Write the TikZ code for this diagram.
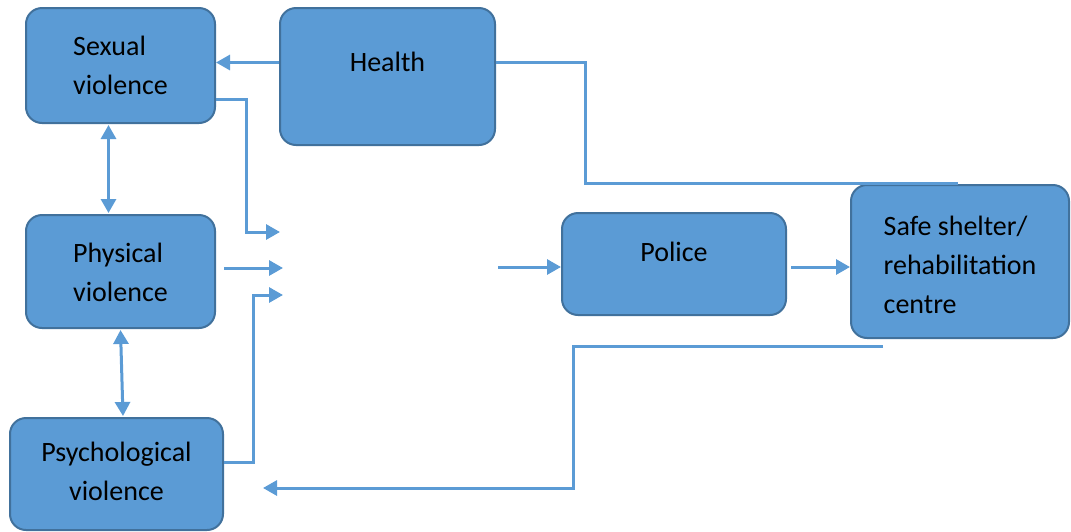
\documentclass[tikz,border=0pt]{standalone}
\usepackage{fontspec}
\setmainfont{Carlito}
\usepackage{xcolor}
\usetikzlibrary{positioning, calc, arrows.meta}
\definecolor{boxblue}{HTML}{5B9BD5}
\definecolor{boxedge}{HTML}{41719C}

\begin{document}
\begin{tikzpicture}[x=1pt, y=-1pt, >={Triangle[length=14pt, width=15pt]},
	box/.style={draw=boxedge, line width=2pt, fill=boxblue, rounded corners=16pt, inner xsep=0pt, inner ysep=0pt, font=\fontsize{28}{39}\selectfont},
	line/.style={draw=boxblue, line width=3pt},
	link/.style={line, ->},
	twoway/.style={line, <->}]
	% Page frame
	\useasboundingbox (0,0) rectangle (1071,531);
	
	% Boxes (text placed by text height / depth, last line is the base)
	\node[box, align=left, minimum width=189pt, text height=86pt, text depth=29pt] (sexual) at (120.5,65.5) {Sexual\\violence};
	\node[box, align=center, minimum width=215pt, text height=63pt, text depth=74pt] (health) at (387.5,76.5) {Health};
	\node[box, align=left, minimum width=189pt, text height=86pt, text depth=27pt] (physical) at (120.5,271.5) {Physical\\violence};
	\node[box, align=center, minimum width=213pt, text height=82pt, text depth=30pt] (psych) at (116.5,474) {Psychological\\violence};
	\node[box, align=center, minimum width=224pt, text height=48pt, text depth=54pt] (police) at (674,264) {Police};
	\node[box, align=left, minimum width=218pt, text height=128pt, text depth=25pt] (shelter) at (960,261.5) {Safe shelter/\\rehabilitation\\centre};
	
	% Free ends in the blank middle
	\coordinate (hubA) at (280,232);
	\coordinate (hubB) at (283,268);
	\coordinate (hubC) at (283,295);
	\coordinate (hubOut) at (498,267);
	\coordinate (shelterTop) at (958,183);
	
	% Connectors
	\draw[link] ([yshift=14pt]health.west) -- ([yshift=14pt]health.west -| sexual.east);
	\draw[link] ([yshift=-34pt]sexual.east) -| ([xshift=-34pt]hubA) -- (hubA);
	\draw[link] ([xshift=8pt]physical.east |- hubB) -- (hubB);
	\draw[link] ([yshift=12pt]psych.east) -| ([xshift=-30pt]hubC) -- (hubC);
	\draw[twoway] ([xshift=-12pt,yshift=-1pt]sexual.south) -- ([xshift=-12pt,yshift=1pt]physical.north);
	\draw[twoway] ([yshift=-1pt]physical.south) -- ([xshift=6.5pt,yshift=1pt]psych.north);
	\draw[line] ([yshift=14pt]health.east) -| ([xshift=-373pt]shelterTop) -- (shelterTop);
	\draw[link] (hubOut) -- (police.west |- hubOut);
	\draw[link] ([xshift=4pt]police.east |- hubOut) -- (shelter.west |- hubOut);
	\draw[link] ([xshift=-77pt,yshift=-7pt]shelter.south) -| ([xshift=349pt,yshift=-14pt]psych.east) -- ([xshift=39pt,yshift=-14pt]psych.east);
	
\end{tikzpicture}
\end{document}
